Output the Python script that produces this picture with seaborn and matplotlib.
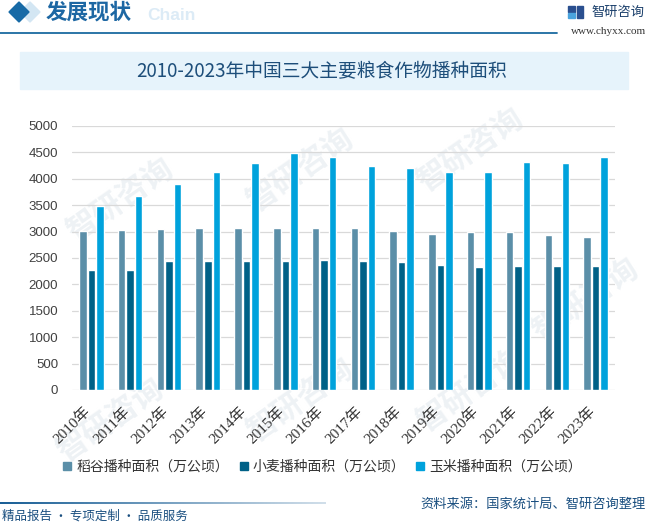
import matplotlib
matplotlib.use("Agg")
import matplotlib.pyplot as plt
import matplotlib.transforms as mtransforms
from matplotlib.colors import LinearSegmentedColormap
from matplotlib.patches import Polygon, Rectangle
import numpy as np
import pandas as pd
import seaborn as sns

# ---- data (万公顷) ----
years = ["2010年", "2011年", "2012年", "2013年", "2014年", "2015年", "2016年",
         "2017年", "2018年", "2019年", "2020年", "2021年", "2022年", "2023年"]
rice = [3011, 3030, 3049, 3068, 3068, 3068, 3068, 3068, 3011, 2955, 2992, 2992, 2936, 2898]
wheat = [2273, 2273, 2443, 2443, 2443, 2443, 2462, 2443, 2424, 2367, 2330, 2348, 2348, 2348]
corn = [3485, 3674, 3902, 4129, 4299, 4489, 4413, 4242, 4205, 4129, 4129, 4318, 4299, 4413]
series_names = ["稻谷播种面积（万公顷）", "小麦播种面积（万公顷）", "玉米播种面积（万公顷）"]
colors = ["#5b8fa8", "#006187", "#00a2dc"]

df = pd.DataFrame({"year": years * 3,
                   "series": np.repeat(series_names, len(years)),
                   "value": rice + wheat + corn})

W, H = 647, 524
sns.set_style("white")
CJK = ["Noto Sans CJK SC", "DejaVu Sans"]
plt.rcParams["font.family"] = CJK

fig = plt.figure(figsize=(W / 100, H / 100), dpi=100)

# background / decoration layer in pixel coordinates
bg = fig.add_axes([0, 0, 1, 1], zorder=-2)
bg.axis("off")

# header
bg.add_patch(Polygon([[30, 2], [40, 12], [30, 22], [20, 12]], closed=True, color="#d3e6f3"))
bg.add_patch(Polygon([[19, 2], [29, 12], [19, 22], [9, 12]], closed=True, color="#176aa6"))
bg.text(147, 15, "Chain", fontsize=12.5, fontweight="bold", color="#dcebf6",
        family=["Liberation Sans"], va="center")
bg.text(46, 12, "发展现状", fontsize=15.5, fontweight="bold", color="#1d67a3", va="center")
bg.plot([0, 557], [32.5, 32.5], color="#1a6aa0", lw=1.3)
bg.add_patch(Rectangle((568, 6), 7, 6, color="#2a4f8f"))
bg.add_patch(Rectangle((568, 13), 7, 5, color="#4aa3dd"))
bg.add_patch(Rectangle((577, 6), 6, 12, color="#2a4f8f"))
bg.text(591, 12, "智研咨询", fontsize=9.5, color="#1a3f6b", va="center")
bg.text(646, 32, "www.chyxx.com", fontsize=8, color="#333333", ha="right", va="center",
        family=["Liberation Serif"])

# title box
bg.add_patch(Rectangle((20, 52), 608, 37, color="#e6f3fb"))
bg.text(322, 72, "2010-2023年中国三大主要粮食作物播种面积", fontsize=13.5,
        fontweight="medium", color="#1d4e7a", ha="center", va="center")

# watermarks
for (x, y) in [(120, 200), (300, 170), (470, 150), (110, 420), (300, 400), (470, 390), (585, 300)]:
    bg.text(x, y, "智研咨询", fontsize=22, color="#eef2f5", rotation=35,
            ha="center", va="center", fontweight="bold")

# footer
grad = np.linspace(1, 0.2, 256).reshape(1, -1)
bg.imshow(grad, extent=[0, 326, 504, 502], aspect="auto",
          cmap=LinearSegmentedColormap.from_list("g", ["#ffffff", "#1a5f96"]), vmin=0, vmax=1)
bg.set_xlim(0, W)
bg.set_ylim(H, 0)
bg.text(2, 516, "精品报告 · 专项定制 · 品质服务", fontsize=9, color="#1a4f80", va="center")
bg.text(646, 504, "资料来源：国家统计局、智研咨询整理", fontsize=9.5, color="#1a4f80",
        ha="right", va="center")

# ---- chart ----
left, right, top, bottom = 72, 615, 126, 390
ax = fig.add_axes([left / W, 1 - bottom / H, (right - left) / W, (bottom - top) / H])
ax.set_facecolor("none")
sns.barplot(data=df, x="year", y="value", hue="series", palette=colors,
            width=0.66, gap=0.12, ax=ax, legend=False, saturation=1)
ax.set_ylim(0, 5000)
ax.set_yticks(np.arange(0, 5001, 500))
ax.grid(axis="y", color="#d9d9d9", lw=0.9)
ax.set_axisbelow(True)
for s in ax.spines.values():
    s.set_visible(False)
ax.tick_params(axis="both", length=0)
ax.tick_params(axis="y", labelsize=9.5, labelcolor="#404040", pad=10)
for lbl in ax.get_yticklabels():
    lbl.set_family(["Liberation Sans"])
ax.set_xticks(range(len(years)))
ax.set_xticklabels(years, rotation=45, ha="right", va="center", rotation_mode="anchor",
                   fontsize=11, color="#333333", family=["Liberation Serif", "Noto Sans CJK SC"])
ax.tick_params(axis="x", pad=14)
shift = mtransforms.ScaledTranslation(-2 / 72, 0, fig.dpi_scale_trans)
for lbl in ax.get_xticklabels():
    lbl.set_transform(lbl.get_transform() + shift)
ax.set_xlabel("")
ax.set_ylabel("")
ax.set_xlim(-0.5, len(years) - 0.5)

# legend
handles = [plt.Line2D([], [], marker="s", ls="", color=c, markersize=5.5) for c in colors]
fig.legend(handles, series_names, loc="center", bbox_to_anchor=(322 / W, 1 - 467 / H),
           ncol=3, frameon=False, fontsize=10, handlelength=0.7, handletextpad=0.3,
           columnspacing=0.7, labelcolor="#333333")

fig.savefig("out.png", dpi=100)
